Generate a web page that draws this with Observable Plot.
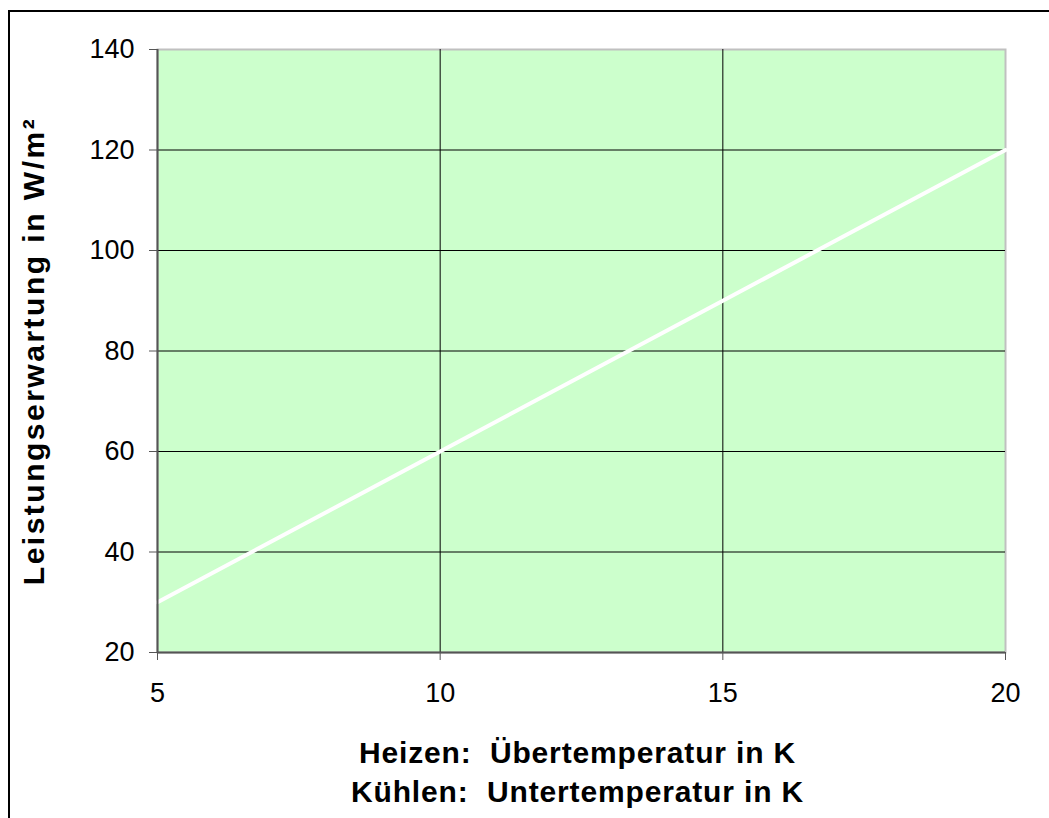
<!DOCTYPE html>
<html>
<head>
<meta charset="utf-8">
<script src="https://cdn.jsdelivr.net/npm/d3@7"></script>
<script src="https://cdn.jsdelivr.net/npm/@observablehq/plot@0.6"></script>
<style>
  html, body { margin: 0; padding: 0; background: #fff; overflow: hidden; }
  #wrap { position: relative; width: 1049px; height: 818px; }
  #border { position: absolute; left: 8px; top: 10px; width: 1100px; height: 900px;
            border-left: 2px solid #000; border-top: 2px solid #000; box-sizing: border-box; }
  #chart { position: absolute; left: 0; top: 0; }
</style>
</head>
<body>
<div id="wrap">
  <div id="border"></div>
  <div id="chart"></div>
</div>
<script>
const temperatures = [5, 10, 15, 20];
const power = [30, 60, 90, 120];
const xTicks = [5, 10, 15, 20];
const yTicks = [20, 40, 60, 80, 100, 120, 140];
const xTitle1 = "Heizen:\u00a0\u00a0Übertemperatur in K";
const xTitle2 = "Kühlen:\u00a0\u00a0Untertemperatur in K";
const yTitle = "Leistungserwartung in W/m²";

const data = temperatures.map((t, i) => ({x: t, y: power[i]}));

const chart = Plot.plot({
  width: 1049,
  height: 818,
  marginLeft: 157,
  marginRight: 44,
  marginTop: 49,
  marginBottom: 166,
  style: {fontFamily: "'Liberation Sans', Arial, sans-serif", fontSize: "27px", color: "#000", background: "transparent"},
  x: {domain: [5, 20], ticks: xTicks, label: null},
  y: {domain: [20, 140], ticks: yTicks, label: null},
  marks: [
    Plot.frame({fill: "#CCFFCC", stroke: "#c0c0c0", strokeWidth: 2}),
    Plot.gridX(xTicks.slice(1, -1), {stroke: "#000", strokeOpacity: 1, strokeWidth: 1}),
    Plot.gridY(yTicks.slice(1, -1), {stroke: "#000", strokeOpacity: 1, strokeWidth: 1}),
    Plot.line(data, {x: "x", y: "y", stroke: "#fff", strokeWidth: 4}),
    Plot.axisX(xTicks, {tickSize: 8, tickPadding: 22, stroke: "#555", fontSize: 27, color: "#000"}),
    Plot.axisY(yTicks, {tickSize: 8, tickPadding: 15, stroke: "#555", fontSize: 27, color: "#000"}),
    Plot.ruleY([20], {stroke: "#555", strokeWidth: 2}),
    Plot.ruleX([5], {stroke: "#555", strokeWidth: 2}),
    Plot.text([xTitle1], {frameAnchor: "bottom", dx: -4, dy: 101, text: d => d, fontSize: 30, fontWeight: "bold", lineAnchor: "middle", textAnchor: "middle", fill: "#000"}),
    Plot.text([xTitle2], {frameAnchor: "bottom", dx: -4, dy: 140, text: d => d, fontSize: 30, fontWeight: "bold", lineAnchor: "middle", textAnchor: "middle", fill: "#000"}),
    Plot.text([yTitle], {frameAnchor: "left", dx: -123, text: d => d, rotate: -90, fontSize: 30, fontWeight: "bold", lineAnchor: "middle", textAnchor: "middle", fill: "#000"})
  ]
});
document.getElementById("chart").appendChild(chart);
d3.select(chart).selectAll("text").each(function() {
  const t = this.textContent;
  if (t === yTitle) d3.select(this).style("letter-spacing", "2.5px");
  else if (t === xTitle1 || t === xTitle2) d3.select(this).style("letter-spacing", "0.85px");
});
</script>
</body>
</html>
